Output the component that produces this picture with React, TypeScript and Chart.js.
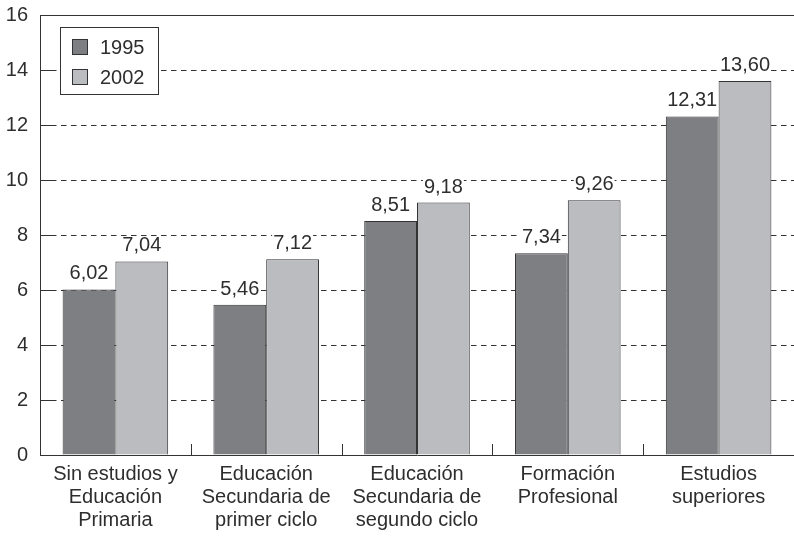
import React, { useEffect, useRef } from "react";
import { Chart, registerables } from "chart.js";

Chart.register(...registerables);

const categories: string[][] = [
  ["Sin estudios y", "Educación", "Primaria"],
  ["Educación", "Secundaria de", "primer ciclo"],
  ["Educación", "Secundaria de", "segundo ciclo"],
  ["Formación", "Profesional"],
  ["Estudios", "superiores"],
];
const seriesLabels = ["1995", "2002"];
const values1995 = [6.02, 5.46, 8.51, 7.34, 12.31];
const values2002 = [7.04, 7.12, 9.18, 9.26, 13.6];
const yMin = 0;
const yMax = 16;
const yStep = 2;

const FONT = "'Liberation Sans', Arial, sans-serif";
const FS = 20;
const TEXT = "#2e2e2e";
const LINE = "#333333";
const COLORS = ["#7e7f83", "#bbbcc0"];

const fmt = (v: number) => v.toFixed(2).replace(".", ",");

const decorPlugin = {
  id: "decor",
  beforeDatasetsDraw(chart: any) {
    const { ctx, chartArea } = chart;
    const y = chart.scales.y;
    const x = chart.scales.x;
    ctx.save();
    ctx.strokeStyle = LINE;
    ctx.lineWidth = 1;
    ctx.setLineDash([]);
    ctx.beginPath();
    ctx.moveTo(chartArea.left, Math.round(chartArea.top) + 0.5);
    ctx.lineTo(chartArea.right, Math.round(chartArea.top) + 0.5);
    ctx.stroke();
    y.ticks.forEach((t: any) => {
      const py = Math.round(y.getPixelForValue(t.value)) + 0.5;
      ctx.beginPath();
      ctx.moveTo(chartArea.left, py);
      ctx.lineTo(chartArea.left + 16, py);
      ctx.stroke();
    });
    for (let i = 1; i < categories.length; i++) {
      const px = Math.round((x.getPixelForValue(i - 1) + x.getPixelForValue(i)) / 2) + 0.5;
      ctx.beginPath();
      ctx.moveTo(px, chartArea.bottom);
      ctx.lineTo(px, chartArea.bottom - 11);
      ctx.stroke();
    }
    ctx.restore();
  },
  afterDatasetsDraw(chart: any) {
    const { ctx, chartArea } = chart;
    ctx.save();
    ctx.font = `${FS}px ${FONT}`;
    ctx.textAlign = "center";
    ctx.textBaseline = "alphabetic";
    chart.data.datasets.forEach((ds: any, di: number) => {
      const meta = chart.getDatasetMeta(di);
      meta.data.forEach((el: any, i: number) => {
        const txt = fmt(ds.data[i]);
        const w = ctx.measureText(txt).width;
        const by = el.y - 10;
        ctx.fillStyle = "#ffffff";
        ctx.fillRect(el.x - w / 2 - 1, by - 15, w + 2, 19);
        ctx.fillStyle = TEXT;
        ctx.fillText(txt, el.x, by);
      });
    });
    const bx = chartArea.left + 20;
    const by = chartArea.top + 12;
    ctx.fillStyle = "#ffffff";
    ctx.fillRect(bx, by, 98, 67);
    ctx.strokeStyle = LINE;
    ctx.lineWidth = 1;
    ctx.strokeRect(Math.round(bx) + 0.5, Math.round(by) + 0.5, 98, 67);
    seriesLabels.forEach((lab, i) => {
      const sy = by + 12 + i * 30;
      ctx.fillStyle = COLORS[i];
      ctx.fillRect(bx + 12, sy, 15, 15);
      ctx.strokeStyle = LINE;
      ctx.strokeRect(Math.round(bx + 12) + 0.5, Math.round(sy) + 0.5, 15, 15);
      ctx.fillStyle = TEXT;
      ctx.textAlign = "left";
      ctx.fillText(lab, bx + 40, sy + 15);
    });
    ctx.restore();
  },
};

export default function App() {
  const ref = useRef<HTMLCanvasElement | null>(null);
  useEffect(() => {
    if (!ref.current) return;
    const chart = new Chart(ref.current, {
      type: "bar",
      data: {
        labels: categories,
        datasets: [
          {
            label: seriesLabels[0],
            data: values1995,
            backgroundColor: COLORS[0],
            borderColor: LINE,
            borderWidth: 1,
            categoryPercentage: 0.7,
            barPercentage: 1,
          },
          {
            label: seriesLabels[1],
            data: values2002,
            backgroundColor: COLORS[1],
            borderColor: LINE,
            borderWidth: 1,
            categoryPercentage: 0.7,
            barPercentage: 1,
          },
        ],
      },
      options: {
        responsive: false,
        animation: false,
        layout: { padding: { left: 0, right: 0, top: 0, bottom: 0 } },
        plugins: { legend: { display: false }, tooltip: { enabled: false } },
        scales: {
          x: {
            grid: { display: false, drawTicks: false },
            border: { display: true, color: LINE, width: 1 },
            ticks: {
              color: TEXT,
              font: { family: FONT, size: FS, lineHeight: 1.15 },
              padding: 8,
              maxRotation: 0,
              autoSkip: false,
            },
            afterFit: (s: any) => {
              s.height = 81;
            },
          },
          y: {
            min: yMin,
            max: yMax,
            grid: { color: LINE, lineWidth: 1, drawTicks: false },
            border: { display: true, color: LINE, width: 1, dash: [5.5, 4.5] },
            ticks: {
              stepSize: yStep,
              color: TEXT,
              font: { family: FONT, size: FS },
              padding: 12,
            },
            afterFit: (s: any) => {
              s.width = 40;
              s.paddingTop = 15;
              s.paddingBottom = 0;
            },
          },
        },
      },
      plugins: [decorPlugin],
    });
    return () => chart.destroy();
  }, []);
  return (
    <div style={{ position: "fixed", left: 0, top: 0, width: 794, height: 536, background: "#fff" }}>
      <canvas ref={ref} width={794} height={536} />
    </div>
  );
}
